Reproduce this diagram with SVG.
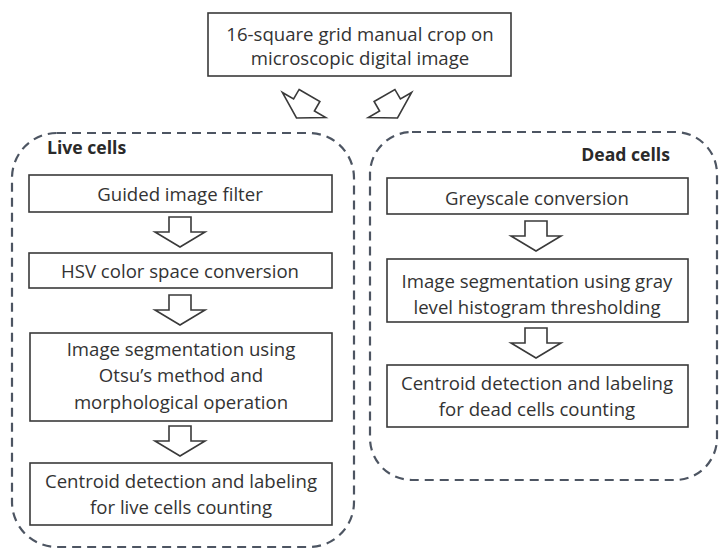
<svg xmlns="http://www.w3.org/2000/svg" width="719" height="550" viewBox="0 0 719 550">
<style>
.box{fill:#fff;stroke:#3a3a3a;stroke-width:1.6}
.grp{fill:none;stroke:#4d5562;stroke-width:2.2;stroke-dasharray:9 6}
.arr{fill:#fff;stroke:#3a3a3a;stroke-width:1.6;stroke-linejoin:miter}
.t{font-family:"Open Sans",sans-serif;font-size:18.6px;fill:#333;text-anchor:middle}
.lbl{font-family:"Open Sans",sans-serif;font-size:17.6px;font-weight:bold;fill:#2a2a2a}
</style>
<defs>
<path id="da" d="M-11,-15 H11 V0 H25 L0,15 L-25,0 H-11 Z"/>
<path id="ta" d="M-12,-11 H12 V0 H25 L0,15 L-25,0 H-12 Z"/>
</defs>
<rect width="719" height="550" fill="#fff"/>
<g id="live-group">
<rect class="grp" x="12" y="133" width="342" height="414" rx="45" ry="45"/>
<text class="lbl" x="47" y="154">Live cells</text>
</g>
<g id="dead-group">
<rect class="grp" x="370" y="132" width="347" height="348" rx="42" ry="42"/>
<text class="lbl" x="670" y="161" text-anchor="end">Dead cells</text>
</g>
<g id="connectors">
<use href="#ta" class="arr" transform="translate(304,105) rotate(30)"/>
<use href="#ta" class="arr" transform="translate(390,105) rotate(-30)"/>
<use href="#da" class="arr" transform="translate(180,232)"/>
<use href="#da" class="arr" transform="translate(180,310)"/>
<use href="#da" class="arr" transform="translate(180,441)"/>
<use href="#da" class="arr" transform="translate(536,236)"/>
<use href="#da" class="arr" transform="translate(536,343)"/>
</g>
<g id="n-top">
<rect class="box" x="208" y="13" width="303" height="63"/>
<text class="t" x="360" y="41">16-square grid manual crop on</text>
<text class="t" x="360" y="65">microscopic digital image</text>
</g>
<g id="n-guided">
<rect class="box" x="29" y="175" width="303" height="37"/>
<text class="t" x="180" y="201">Guided image filter</text>
</g>
<g id="n-hsv">
<rect class="box" x="29" y="253" width="303" height="35"/>
<text class="t" x="180" y="278">HSV color space conversion</text>
</g>
<g id="n-otsu">
<rect class="box" x="30" y="333" width="302" height="88"/>
<text class="t" x="181" y="356">Image segmentation using</text>
<text class="t" x="181" y="382">Otsu’s method and</text>
<text class="t" x="181" y="409">morphological operation</text>
</g>
<g id="n-live-count">
<rect class="box" x="30" y="463" width="302" height="62"/>
<text class="t" x="181" y="488">Centroid detection and labeling</text>
<text class="t" x="181" y="514">for live cells counting</text>
</g>
<g id="n-grey">
<rect class="box" x="387" y="178" width="301" height="36"/>
<text class="t" x="537" y="205">Greyscale conversion</text>
</g>
<g id="n-thresh">
<rect class="box" x="387" y="259" width="301" height="63"/>
<text class="t" x="537" y="288">Image segmentation using gray</text>
<text class="t" x="537" y="314">level histogram thresholding</text>
</g>
<g id="n-dead-count">
<rect class="box" x="387" y="365" width="301" height="62"/>
<text class="t" x="537" y="390">Centroid detection and labeling</text>
<text class="t" x="537" y="416">for dead cells counting</text>
</g>
</svg>
